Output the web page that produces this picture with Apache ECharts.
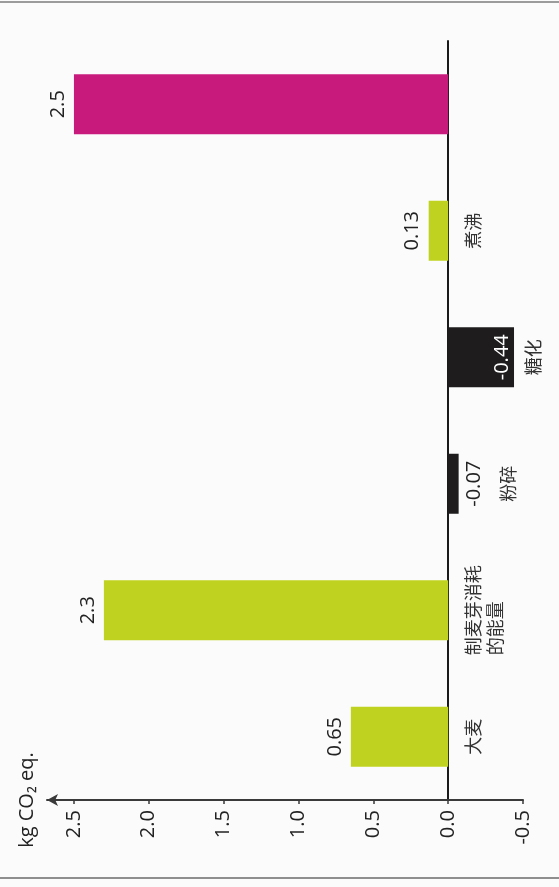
<!DOCTYPE html>
<html>
<head>
<meta charset="utf-8">
<script src="https://cdn.jsdelivr.net/npm/echarts@6/dist/echarts.min.js"></script>
<style>
  html, body { margin: 0; padding: 0; background: #fbfbfc; }
  #main { width: 559px; height: 887px; }
</style>
</head>
<body>
<div id="main"></div>
<script>
  // categories go from bottom to top in the picture
  var categories = ['大麦', '制麦芽消耗的能量', '粉碎', '糖化', '煮沸', '']
  var values = [0.65, 2.3, -0.07, -0.44, 0.13, 2.5]
  var valueTicks = [-0.5, 0, 0.5, 1.0, 1.5, 2.0, 2.5]

  var GREEN = '#bfd21f'
  var MAGENTA = '#c81a7c'
  var BLACK = '#1e1c1d'

  function barColor(v, i) {
    if (i === values.length - 1) return MAGENTA
    return v < 0 ? BLACK : GREEN
  }

  function barLabel(v) {
    // rotated labels: text reads bottom-to-top
    if (v >= 0) {
      return { position: 'left', distance: 6, align: 'center', verticalAlign: 'bottom', color: '#222' }
    }
    if (v > -0.2) {
      return { position: 'right', distance: 6, align: 'center', verticalAlign: 'top', color: '#222' }
    }
    return { position: 'insideRight', distance: 2, align: 'center', verticalAlign: 'bottom', color: '#fff' }
  }

  // category names under negative bars sit further out, past the bar
  var catStyle = {
    fontSize: 18,
    lineHeight: 22,
    color: '#333',
    fontFamily: '"Noto Sans CJK SC", sans-serif'
  }
  var rich = {
    a: Object.assign({}, catStyle),
    b: Object.assign({ padding: [70, 0, 0, 0] }, catStyle),
    c: Object.assign({ padding: [120, 0, 0, 0] }, catStyle)
  }

  var myChart = echarts.init(document.getElementById('main'))
  myChart.setOption({
    backgroundColor: '#fbfbfc',
    textStyle: {
      fontFamily: '"Open Sans", "Noto Sans CJK SC", sans-serif'
    },
    grid: {
      left: 47,
      right: 36,
      top: 41,
      bottom: 87,
      containLabel: false,
      outerBoundsMode: 'none'
    },
    xAxis: {
      type: 'value',
      inverse: true,
      min: -0.5,
      max: 2.68,
      interval: 0.5,
      name: 'kg CO₂ eq.',
      nameLocation: 'end',
      nameRotate: 90,
      nameGap: 10,
      nameTextStyle: {
        color: '#222',
        fontSize: 20
      },
      axisLine: {
        show: true,
        onZero: false,
        symbol: ['arrow', 'none'],
        symbolSize: [9, 11],
        lineStyle: {
          color: '#3a3a3a',
          width: 2
        }
      },
      axisTick: {
        show: true,
        customValues: valueTicks,
        length: 4,
        lineStyle: {
          color: '#3a3a3a',
          width: 1.5
        }
      },
      axisLabel: {
        customValues: valueTicks,
        rotate: 90,
        margin: 10,
        color: '#222',
        fontSize: 20,
        formatter: function (v) {
          return valueTicks.indexOf(v) > -1 ? v.toFixed(1) : ''
        }
      },
      splitLine: {
        show: false
      }
    },
    yAxis: {
      type: 'category',
      position: 'right',
      // pull the axis in from the grid edge onto the zero line
      offset: -75,
      data: categories,
      axisLine: {
        onZero: false,
        lineStyle: {
          color: '#1a1a1a',
          width: 2
        }
      },
      axisTick: {
        show: false
      },
      axisLabel: {
        interval: 0,
        rotate: 90,
        margin: 14,
        color: '#333',
        fontSize: 18,
        lineHeight: 22,
        fontFamily: '"Noto Sans CJK SC", sans-serif',
        rich: rich,
        formatter: function (s, i) {
          if (!s) return ''
          var v = values[i]
          var key = v < -0.2 ? 'c' : (v < 0 ? 'b' : 'a')
          if (s.length > 5) {
            var rest = s.slice(5)
            while (rest.length < 5) rest += '\u3000'
            return '{' + key + '|' + s.slice(0, 5) + '}\n{' + key + '|' + rest + '}'
          }
          return '{' + key + '|' + s + '}'
        }
      }
    },
    series: [{
      type: 'bar',
      barWidth: 60,
      data: values.map(function (v, i) {
        var lb = barLabel(v)
        return {
          value: v,
          itemStyle: { color: barColor(v, i) },
          label: Object.assign({
            show: true,
            rotate: 90,
            fontSize: 20,
            formatter: function (p) { return String(p.value) }
          }, lb)
        }
      })
    }],
    graphic: [{
      type: 'line',
      shape: { x1: 0, y1: 2, x2: 559, y2: 2 },
      style: { stroke: '#9c9c9c', lineWidth: 2 }
    }, {
      type: 'line',
      shape: { x1: 0, y1: 878, x2: 559, y2: 878 },
      style: { stroke: '#8e8e8e', lineWidth: 2 }
    }]
  })

  window.addEventListener('resize', function () {
    myChart.resize()
  })
</script>
</body>
</html>
